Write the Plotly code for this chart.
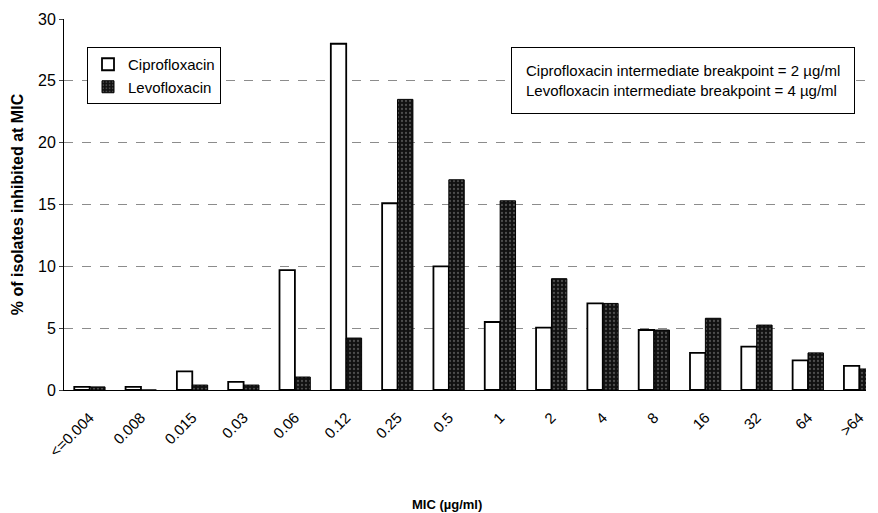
import plotly.graph_objects as go

categories = ["<=0.004", "0.008", "0.015", "0.03", "0.06", "0.12", "0.25", "0.5",
              "1", "2", "4", "8", "16", "32", "64", ">64"]
cipro = [0.25, 0.25, 1.5, 0.65, 9.7, 28.0, 15.1, 10.0, 5.5, 5.05, 7.0, 4.85, 3.0, 3.5, 2.4, 1.95]
levo = [0.25, 0.0, 0.4, 0.4, 1.05, 4.2, 23.5, 17.0, 15.3, 9.0, 7.0, 4.85, 5.8, 5.25, 3.0, 1.7]
y_ticks = [0, 5, 10, 15, 20, 25, 30]

FONT = "Liberation Sans, Arial, sans-serif"
OFF = 8  # page body margin offset
W, H = 878 - OFF, 513 - OFF
L, T = 64 - OFF, 19 - OFF
R = W - (866 - OFF)
B = H - (390 - OFF)
PW, PH = W - L - R, H - T - B


def px_x(x):
    return (x - 64) / PW


def px_y(y):
    return (390 - y) / PH


fig = go.Figure()
fig.add_trace(go.Bar(
    name="Ciprofloxacin", x=categories, y=cipro,
    marker=dict(color="white", line=dict(color="black", width=1.8)),
))
fig.add_trace(go.Bar(
    name="Levofloxacin", x=categories, y=levo,
    marker=dict(color="#111111", line=dict(color="black", width=1),
                pattern=dict(shape=".", fgcolor="#8a8a8a", bgcolor="#111111",
                             size=4, solidity=0.25)),
))

fig.add_annotation(
    xref="paper", yref="paper", x=px_x(511), y=px_y(47),
    xanchor="left", yanchor="top", align="left",
    text="Ciprofloxacin intermediate breakpoint = 2 µg/ml<br>Levofloxacin intermediate breakpoint = 4 µg/ml",
    showarrow=False, font=dict(family=FONT, size=15, color="black"),
    bgcolor="white", bordercolor="black", borderwidth=1, borderpad=14,
)

# x-axis title placed as in the reference (original figure was cropped on the right)
fig.add_annotation(
    xref="paper", yref="paper", x=px_x(447), y=px_y(504),
    xanchor="center", yanchor="middle", showarrow=False,
    text="<b>MIC (µg/ml)</b>", font=dict(family=FONT, size=13, color="black"),
)

fig.update_layout(
    width=W, height=H,
    margin=dict(l=L, r=R, t=T, b=B),
    plot_bgcolor="white", paper_bgcolor="white",
    barmode="group", bargap=0.4, bargroupgap=0.0,
    font=dict(family=FONT, color="black"),
    showlegend=True,
    legend=dict(x=px_x(87), y=px_y(47), xanchor="left", yanchor="top",
                bgcolor="white", bordercolor="black", borderwidth=1,
                itemwidth=30, font=dict(size=15, family=FONT)),
    xaxis=dict(
        type="category", range=[-0.5, 15.13], automargin=False,
        tickangle=-45, tickfont=dict(size=15, family=FONT), ticklabelstandoff=12,
        showline=True, linecolor="black", linewidth=1, ticks="",
    ),
    yaxis=dict(
        range=[0, 30], tickvals=y_ticks, tickfont=dict(size=16, family=FONT),
        automargin=False,
        showline=True, linecolor="black", linewidth=1, ticks="outside", ticklen=4,
        showgrid=True, gridcolor="#8c8c8c", griddash="dash", gridwidth=1,
        zeroline=False,
        title=dict(text="<b>% of isolates inhibited at MIC</b>", font=dict(size=16, family=FONT), standoff=10),
    ),
)

fig.write_html("out.html")
